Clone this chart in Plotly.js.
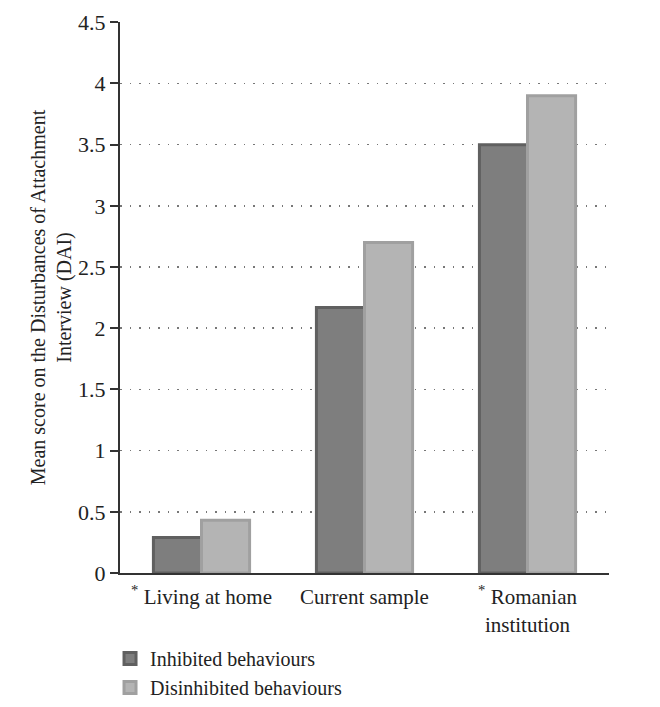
<!DOCTYPE html>
<html>
<head>
<meta charset="utf-8">
<script src="https://cdn.plot.ly/plotly-3.0.1.min.js"></script>
<style>html,body{margin:0;padding:0;background:#fff;}#chart{width:660px;height:707px;}</style>
</head>
<body>
<div id="chart"></div>
<script>
const categories = ["<sup>*</sup> Living at home", "Current sample", "<sup>*</sup> Romanian<br>institution"];
const seriesNames = ["Inhibited behaviours", "Disinhibited behaviours"];
const inhibited = [0.29, 2.17, 3.50];
const disinhibited = [0.43, 2.70, 3.90];
const yTicks = [0, 0.5, 1, 1.5, 2, 2.5, 3, 3.5, 4, 4.5];
const yTickLabels = ["0", "0.5", "1", "1.5", "2", "2.5", "3", "3.5", "4", "4.5"];

const font = "Liberation Serif, Times New Roman, serif";

const traces = [
  {type: "bar", name: seriesNames[0], x: categories, y: inhibited,
   marker: {color: "#7e7e7e", line: {color: "#606060", width: 3}}},
  {type: "bar", name: seriesNames[1], x: categories, y: disinhibited,
   marker: {color: "#b4b4b4", line: {color: "#a0a0a0", width: 3}}}
];

const layout = {
  width: 660, height: 707,
  margin: {l: 120, r: 51, t: 22, b: 134, autoexpand: false},
  paper_bgcolor: "#fff", plot_bgcolor: "#fff",
  font: {family: font, size: 21, color: "#222"},
  barmode: "group", bargap: 0.41, bargroupgap: 0,
  showlegend: true,
  legend: {x: -0.0204, xanchor: "left", y: -0.12, yanchor: "top", orientation: "v",
           tracegroupgap: 0,
           font: {family: font, size: 20, color: "#222"}, bgcolor: "rgba(0,0,0,0)"},
  xaxis: {
    type: "category", range: [-0.5, 2.5], automargin: false,
    showline: true, linecolor: "#333", linewidth: 2,
    ticks: "", showgrid: false, zeroline: false,
    ticklabelstandoff: 4,
    tickfont: {family: font, size: 21, color: "#222"}
  },
  yaxis: {
    range: [0, 4.502], tickvals: yTicks, ticktext: yTickLabels, automargin: false,
    showline: true, linecolor: "#333", linewidth: 2,
    ticks: "outside", ticklen: 8, tickcolor: "#333", tickwidth: 2,
    showgrid: true, gridcolor: "#777", griddash: "1.5px,8px", gridwidth: 1.5,
    zeroline: false,
    tickfont: {family: font, size: 22, color: "#222"},
    title: {text: "Mean score on the Disturbances of Attachment<br>Interview (DAI)",
            font: {family: font, size: 20, color: "#222"}}
  }
};

Plotly.newPlot("chart", traces, layout, {displayModeBar: false, staticPlot: true});
</script>
</body>
</html>
